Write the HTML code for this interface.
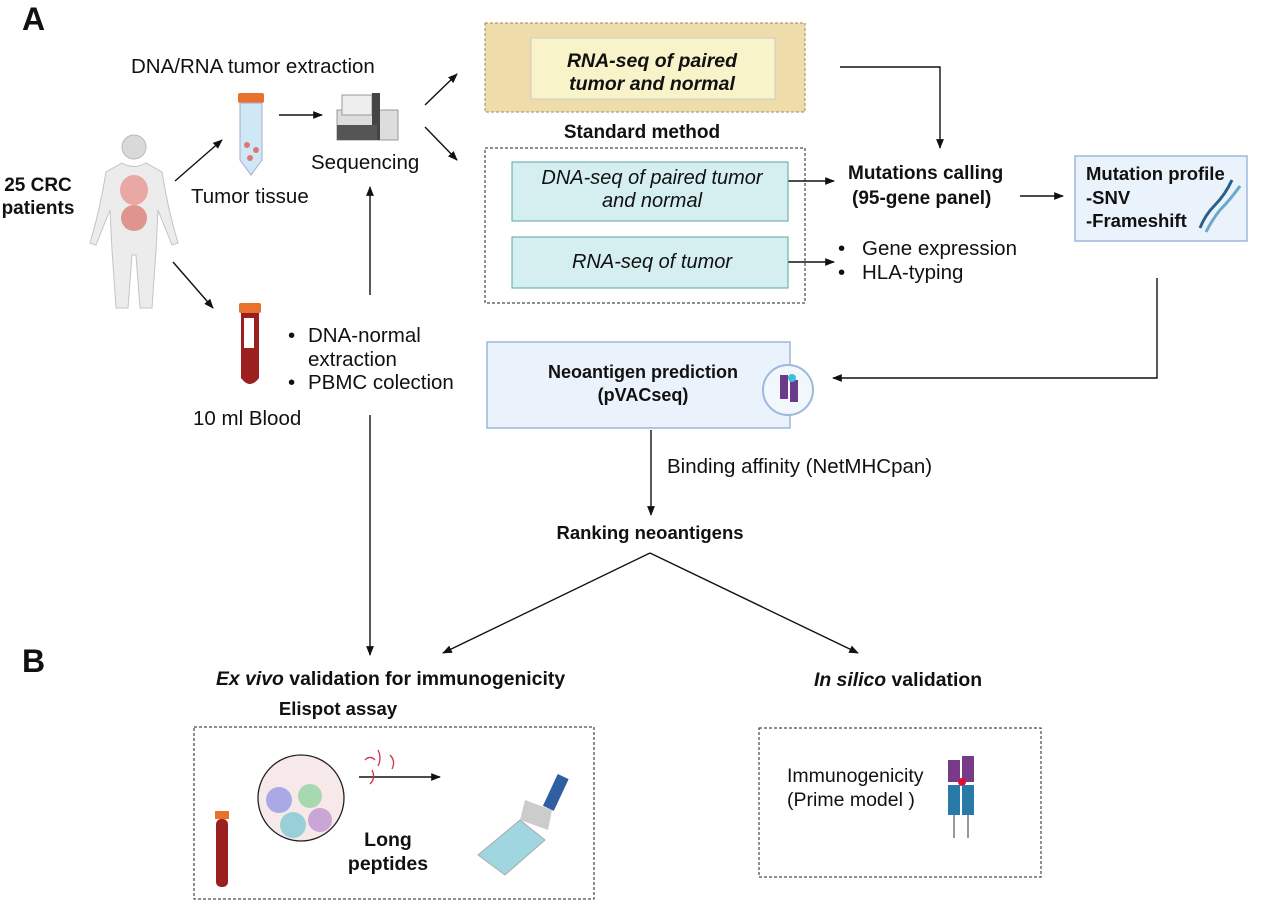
<!DOCTYPE html>
<html><head><meta charset="utf-8"><style>
html,body{margin:0;padding:0;background:#fff}
svg{display:block}
text{font-family:"Liberation Sans",sans-serif;fill:#111}
.b{font-weight:bold}
</style></head><body>
<svg width="1280" height="901" viewBox="0 0 1280 901" xmlns="http://www.w3.org/2000/svg">
<defs>
<marker id="ar" viewBox="0 0 10 10" refX="9" refY="5" markerWidth="7" markerHeight="7" orient="auto-start-reverse"><path d="M0,1 L10,5 L0,9 z" fill="#111"/></marker>
</defs>
<g stroke="#111" stroke-width="1.4" fill="none" marker-end="url(#ar)">
<line x1="175" y1="181" x2="222" y2="140"/>
<line x1="173" y1="262" x2="213" y2="308"/>
<line x1="279" y1="115" x2="322" y2="115"/>
<line x1="425" y1="105" x2="457" y2="74"/>
<line x1="425" y1="127" x2="457" y2="160"/>
<line x1="370" y1="295" x2="370" y2="187"/>
<line x1="370" y1="415" x2="370" y2="655"/>
<polyline points="840,67 940,67 940,148"/>
<line x1="788" y1="181" x2="834" y2="181"/>
<line x1="788" y1="262" x2="834" y2="262"/>
<line x1="1020" y1="196" x2="1063" y2="196"/>
<polyline points="1157,278 1157,378 833,378"/>
<line x1="651" y1="430" x2="651" y2="515"/>
<line x1="650" y1="553" x2="443" y2="653"/>
<line x1="650" y1="553" x2="858" y2="653"/>
<line x1="359" y1="777" x2="440" y2="777"/>
</g>
<text x="22" y="30" class="b" font-size="32">A</text>
<text x="22" y="672" class="b" font-size="32">B</text>
<text x="38" y="191" class="b" font-size="19" text-anchor="middle">25 CRC</text>
<text x="38" y="214" class="b" font-size="19" text-anchor="middle">patients</text>
<g>
<circle cx="134" cy="147" r="12" fill="#d9d9d9" stroke="#bbb"/>
<path d="M122,163 Q134,170 146,163 L162,172 Q168,210 178,243 L172,245 L158,210 L156,250 L152,308 L140,308 L136,255 L132,255 L128,308 L116,308 L112,250 L110,210 L96,245 L90,243 Q100,210 106,172 Z" fill="#ececec" stroke="#c4c4c4"/>
<ellipse cx="134" cy="190" rx="14" ry="15" fill="#e9a8a4"/>
<ellipse cx="134" cy="218" rx="13" ry="13" fill="#e0948f"/>
</g>
<text x="131" y="73" font-size="20.5">DNA/RNA tumor extraction</text>
<rect x="238" y="93" width="26" height="10" rx="2" fill="#e8712c"/>
<path d="M240,103 L262,103 L262,160 L251,175 L240,160 Z" fill="#cfe8f5" stroke="#aac"/>
<circle cx="247" cy="145" r="3" fill="#d77"/><circle cx="256" cy="150" r="3" fill="#d77"/><circle cx="250" cy="158" r="3" fill="#d77"/>
<text x="191" y="203" font-size="20.5">Tumor tissue</text>
<rect x="337" y="110" width="61" height="30" fill="#ddd" stroke="#999"/>
<rect x="342" y="95" width="30" height="20" fill="#eee" stroke="#999"/>
<rect x="372" y="93" width="8" height="47" fill="#444"/>
<rect x="337" y="125" width="40" height="15" fill="#555"/>
<text x="311" y="169" font-size="20.5">Sequencing</text>
<rect x="239" y="303" width="22" height="10" rx="2" fill="#e8712c"/>
<path d="M241,313 L259,313 L259,378 Q250,390 241,378 Z" fill="#9b1f1f"/>
<rect x="244" y="318" width="10" height="30" fill="#fff"/>
<text x="288" y="342" font-size="20.5">•</text><text x="308" y="342" font-size="20.5">DNA-normal</text>
<text x="308" y="366" font-size="20.5">extraction</text>
<text x="288" y="389" font-size="20.5">•</text><text x="308" y="389" font-size="20.5">PBMC colection</text>
<text x="193" y="425" font-size="20.5">10 ml Blood</text>
<rect x="485" y="23" width="320" height="89" fill="#eedcab" stroke="#9a8a5a" stroke-dasharray="3,2"/>
<rect x="531" y="38" width="244" height="61" fill="#f8f3c9" stroke="#ccc"/>
<text x="652" y="67" class="b" font-style="italic" font-size="19.5" text-anchor="middle">RNA-seq of paired</text>
<text x="652" y="90" class="b" font-style="italic" font-size="19.5" text-anchor="middle">tumor and normal</text>
<text x="642" y="138" class="b" font-size="19" text-anchor="middle">Standard method</text>
<rect x="485" y="148" width="320" height="155" fill="none" stroke="#222" stroke-dasharray="3,2"/>
<rect x="512" y="162" width="276" height="59" fill="#d5eef0" stroke="#5aa5aa"/>
<text x="652" y="184" font-style="italic" font-size="20" text-anchor="middle">DNA-seq of paired tumor</text>
<text x="652" y="207" font-style="italic" font-size="20" text-anchor="middle">and normal</text>
<rect x="512" y="237" width="276" height="51" fill="#d5eef0" stroke="#5aa5aa"/>
<text x="652" y="268" font-style="italic" font-size="20" text-anchor="middle">RNA-seq of tumor</text>
<text x="848" y="179" class="b" font-size="19">Mutations calling</text>
<text x="852" y="204" class="b" font-size="19">(95-gene panel)</text>
<text x="838" y="255" font-size="20.5">•</text><text x="862" y="255" font-size="20.5">Gene expression</text>
<text x="838" y="279" font-size="20.5">•</text><text x="862" y="279" font-size="20.5">HLA-typing</text>
<rect x="1075" y="156" width="172" height="85" fill="#eaf2fb" stroke="#9bb8dd" stroke-width="1.5"/>
<text x="1086" y="180" class="b" font-size="18.5">Mutation profile</text>
<text x="1086" y="204" class="b" font-size="18.5">-SNV</text>
<text x="1086" y="227" class="b" font-size="18.5">-Frameshift</text>
<path d="M1232,180 Q1225,195 1215,205 Q1205,215 1200,228" stroke="#2b5f8a" stroke-width="3" fill="none"/>
<path d="M1240,186 Q1230,200 1220,210 Q1212,220 1206,232" stroke="#6aa9c9" stroke-width="3" fill="none"/>
<rect x="487" y="342" width="303" height="86" fill="#eaf2fb" stroke="#9bb8dd" stroke-width="1.5"/>
<text x="643" y="378" class="b" font-size="18" text-anchor="middle">Neoantigen prediction</text>
<text x="643" y="401" class="b" font-size="18" text-anchor="middle">(pVACseq)</text>
<circle cx="788" cy="390" r="25" fill="#f2f7fc" stroke="#9bb8dd" stroke-width="2"/>
<rect x="780" y="375" width="8" height="24" fill="#6a3b8a"/><rect x="790" y="380" width="8" height="22" fill="#6a3b8a"/>
<circle cx="792" cy="378" r="4" fill="#3ac0d8"/>
<text x="667" y="473" font-size="20.5">Binding affinity (NetMHCpan)</text>
<text x="650" y="539" class="b" font-size="18.5" text-anchor="middle">Ranking neoantigens</text>
<text x="216" y="685" class="b" font-size="19.4"><tspan font-style="italic">Ex vivo</tspan> validation for immunogenicity</text>
<text x="338" y="715" class="b" font-size="18.5" text-anchor="middle">Elispot assay</text>
<rect x="194" y="727" width="400" height="172" fill="none" stroke="#222" stroke-dasharray="3,2"/>
<rect x="215" y="811" width="14" height="8" fill="#e8712c"/>
<rect x="216" y="819" width="12" height="68" rx="5" fill="#9b1f1f"/>
<circle cx="301" cy="798" r="43" fill="#f7e9ea" stroke="#222" stroke-width="1.3"/>
<circle cx="279" cy="800" r="13" fill="#a9a9e6"/><circle cx="310" cy="796" r="12" fill="#a8d8b0"/>
<circle cx="320" cy="820" r="12" fill="#c9a6d6"/><circle cx="293" cy="825" r="13" fill="#99cfd9"/>
<path d="M365,760 q5,-5 10,0 M378,750 q4,8 0,16 M390,755 q6,6 2,14 M372,770 q4,8 -2,14" stroke="#c34" stroke-width="1.3" fill="none"/>
<text x="388" y="846" class="b" font-size="19.5" text-anchor="middle">Long</text>
<text x="388" y="870" class="b" font-size="19.5" text-anchor="middle">peptides</text>
<path d="M478,855 L520,820 L545,840 L505,875 Z" fill="#9fd6e0" stroke="#aaa"/>
<path d="M525,800 L552,810 L548,830 L520,820 Z" fill="#ccc"/>
<rect x="550" y="775" width="12" height="35" fill="#2e5fa0" transform="rotate(25 556 792)"/>
<text x="898" y="686" class="b" font-size="19.4" text-anchor="middle"><tspan font-style="italic">In silico</tspan> validation</text>
<rect x="759" y="728" width="282" height="149" fill="none" stroke="#222" stroke-dasharray="3,2"/>
<text x="787" y="782" font-size="19.5">Immunogenicity</text>
<text x="787" y="806" font-size="19.5">(Prime model )</text>
<rect x="948" y="760" width="12" height="22" fill="#7a3a8a"/><rect x="962" y="756" width="12" height="26" fill="#7a3a8a"/>
<circle cx="962" cy="782" r="4" fill="#d13"/>
<rect x="948" y="785" width="12" height="30" fill="#2a7aa8"/><rect x="962" y="785" width="12" height="30" fill="#2a7aa8"/>
<line x1="954" y1="815" x2="954" y2="838" stroke="#333"/><line x1="968" y1="815" x2="968" y2="838" stroke="#333"/>
</svg>
</body></html>
